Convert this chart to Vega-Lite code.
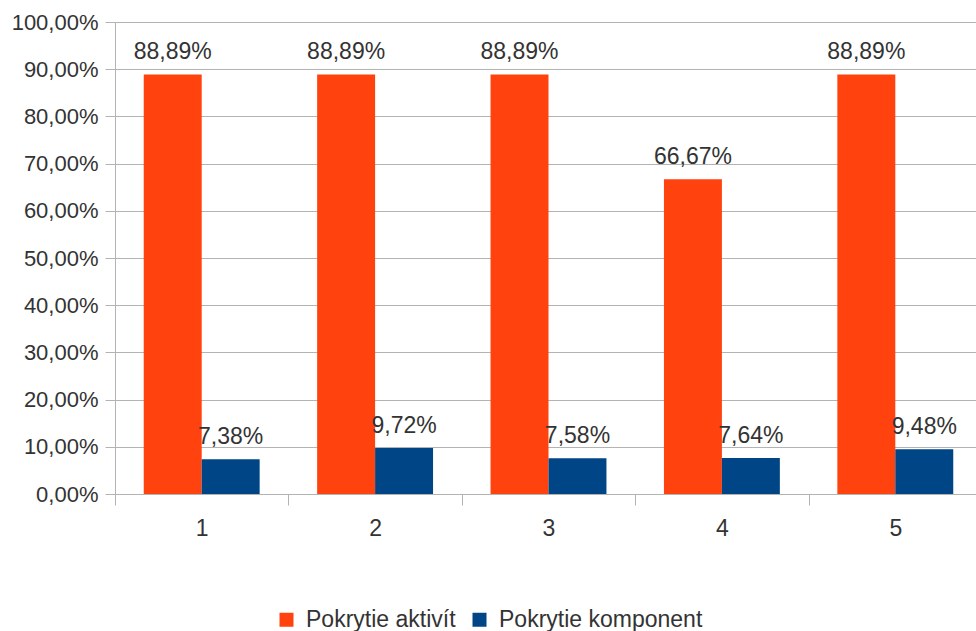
{
  "$schema": "https://vega.github.io/schema/vega-lite/v6.json",
  "width": 867,
  "height": 472,
  "autosize": {"type": "none"},
  "padding": {"left": 115, "top": 22, "right": 0, "bottom": 137},
  "background": "white",
  "config": {
    "font": "Liberation Sans",
    "view": {"stroke": null},
    "axis": {"labelFont": "Liberation Sans", "labelColor": "#333333", "labelFontSize": 22, "gridColor": "#b3b3b3", "domainColor": "#b3b3b3", "tickColor": "#b3b3b3"}
  },
  "data": {
    "values": [
      {"cat": "1", "series": "Pokrytie aktivít", "value": 0.8889},
      {"cat": "1", "series": "Pokrytie komponent", "value": 0.0738},
      {"cat": "2", "series": "Pokrytie aktivít", "value": 0.8889},
      {"cat": "2", "series": "Pokrytie komponent", "value": 0.0972},
      {"cat": "3", "series": "Pokrytie aktivít", "value": 0.8889},
      {"cat": "3", "series": "Pokrytie komponent", "value": 0.0758},
      {"cat": "4", "series": "Pokrytie aktivít", "value": 0.6667},
      {"cat": "4", "series": "Pokrytie komponent", "value": 0.0764},
      {"cat": "5", "series": "Pokrytie aktivít", "value": 0.8889},
      {"cat": "5", "series": "Pokrytie komponent", "value": 0.0948}
    ]
  },
  "transform": [
    {"calculate": "replace(format(datum.value, '.2%'), '.', ',')", "as": "label"}
  ],
  "encoding": {
    "x": {
      "field": "cat", "type": "nominal", "title": null,
      "scale": {"paddingInner": 0, "paddingOuter": 0},
      "axis": {"labelAngle": 0, "tickBand": "extent", "tickSize": 11, "labelPadding": 12, "labelFontSize": 23, "domain": true, "grid": false}
    },
    "xOffset": {
      "field": "series", "type": "nominal",
      "scale": {"paddingInner": 0, "paddingOuter": 0.496}
    },
    "y": {
      "field": "value", "type": "quantitative", "title": null,
      "scale": {"domain": [0, 1]},
      "axis": {"values": [0, 0.1, 0.2, 0.3, 0.4, 0.5, 0.6, 0.7, 0.8, 0.9, 1], "labelExpr": "replace(format(datum.value, '.2%'), '.', ',')", "tickSize": 10, "labelPadding": 7, "domain": true}
    }
  },
  "layer": [
    {
      "mark": {"type": "bar"},
      "encoding": {
        "color": {
          "field": "series", "type": "nominal",
          "scale": {"range": ["#FF420E", "#004586"]},
          "legend": {
            "title": null, "orient": "none", "direction": "horizontal",
            "legendX": 160, "legendY": 586,
            "symbolType": "square", "symbolSize": 196, "symbolStrokeWidth": 0,
            "labelFontSize": 23, "labelColor": "#333333", "labelFont": "Liberation Sans",
            "labelLimit": 0, "labelOffset": 8, "columnPadding": 12
          }
        }
      }
    },
    {
      "mark": {"type": "text", "baseline": "alphabetic", "dy": -15, "fontSize": 23, "color": "#333333", "font": "Liberation Sans"},
      "encoding": {"text": {"field": "label"}}
    }
  ]
}
